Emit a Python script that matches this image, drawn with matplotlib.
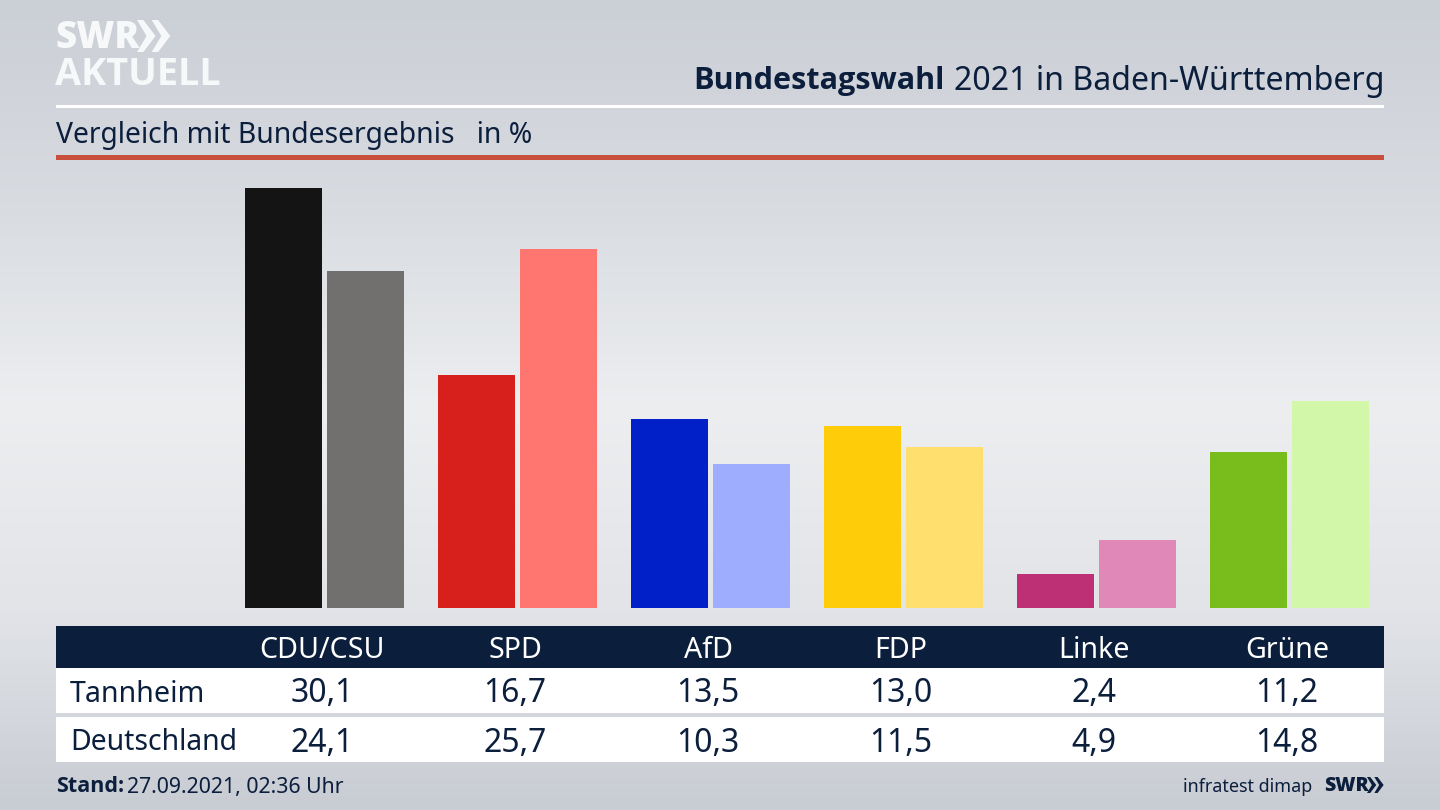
import numpy as np
import matplotlib
matplotlib.use('Agg')
import matplotlib.pyplot as plt
from matplotlib.colors import LinearSegmentedColormap
from matplotlib.patches import Polygon, Rectangle

parties = ['CDU/CSU', 'SPD', 'AfD', 'FDP', 'Linke', 'Grüne']
tannheim = [30.1, 16.7, 13.5, 13.0, 2.4, 11.2]
deutschland = [24.1, 25.7, 10.3, 11.5, 4.9, 14.8]
row_names = ['Tannheim', 'Deutschland']
colors_local = ['#141414', '#d7201c', '#0220c8', '#ffcc0a', '#bd3076', '#79bd1c']
colors_federal = ['#72706e', '#ff7570', '#9fadff', '#ffe06e', '#e088b8', '#d2f7a8']

NAVY = '#0b1e3c'
LOGO = '#f7f8f9'
W, H = 1440, 810

plt.rcParams['font.family'] = ['Noto Sans', 'DejaVu Sans']

fig = plt.figure(figsize=(W / 100, H / 100), dpi=100)

# page layer works in pixels, top left origin
page = fig.add_axes([0, 0, 1, 1])
page.set_xlim(0, W)
page.set_ylim(H, 0)
page.axis('off')

bg = LinearSegmentedColormap.from_list('bg', ['#cbcfd6', '#d8dbe0', '#eceef0', '#e2e4e8', '#c8ccd3'])
page.imshow(np.linspace(0, 1, 256)[:, None], cmap=bg, aspect='auto', extent=(0, W, H, 0), zorder=0)

# header
page.add_patch(Rectangle((56, 104.5), 1328, 3, color='white', lw=0))
page.add_patch(Rectangle((56, 155), 1328, 5, color='#c9503c', lw=0))
page.text(56, 135, 'Vergleich mit Bundesergebnis   in %', fontsize=20.4, color=NAVY, va='center', ha='left')

title_y = 81
t = page.text(1384, title_y, '2021 in Baden-Württemberg', fontsize=23.1, color=NAVY, va='center', ha='right')
fig.canvas.draw()
left = t.get_window_extent().x0
page.text(left - 9, title_y, 'Bundestagswahl', fontsize=22.1, fontweight='bold', family='Open Sans',
          color=NAVY, va='center', ha='right')

# logo
page.text(55, 38, 'SWR', fontsize=26.5, fontweight='black', family='Open Sans', color=LOGO, va='center', ha='left')
page.text(55, 75, 'AKTUELL', fontsize=27.3, fontweight='bold', family='Open Sans', color=LOGO, va='center', ha='left')


def chevrons(x, y, h, color):
    # double arrow of the SWR logo
    for dx in (0, h * 0.46):
        pts = [(x + dx, y), (x + dx + h * 0.2, y), (x + dx + h * 0.58, y + h / 2),
               (x + dx + h * 0.2, y + h), (x + dx, y + h), (x + dx + h * 0.3, y + h / 2)]
        page.add_patch(Polygon(pts, closed=True, color=color, lw=0))


chevrons(137, 20, 32, LOGO)

# bars: group spacing 193 px, first group centre at x=322, base at y=608
chart = fig.add_axes([56 / W, 1 - 608 / H, 1328 / W, 448 / H])
chart.set_xlim((56 - 322) / 193, (1384 - 322) / 193)
chart.set_ylim(0, 448 / 13.97)
chart.axis('off')
x = np.arange(len(parties))
bar_w = 77 / 193
gap = 5 / 193
chart.bar(x - bar_w / 2, tannheim, width=bar_w, color=colors_local, lw=0)
chart.bar(x + bar_w / 2 + gap, deutschland, width=bar_w, color=colors_federal, lw=0)

# table
page.add_patch(Rectangle((56, 626), 1328, 42, color=NAVY, lw=0))
page.add_patch(Rectangle((56, 668), 1328, 45, color='white', lw=0))
page.add_patch(Rectangle((56, 717), 1328, 45, color='white', lw=0))
cols = 322 + 193 * x
for cx, name, a, b in zip(cols, parties, tannheim, deutschland):
    page.text(cx, 651, name, fontsize=20.6, color='white', va='center', ha='center')
    page.text(cx, 694, f'{a:.1f}'.replace('.', ','), fontsize=23, color=NAVY, va='center', ha='center')
    page.text(cx, 743, f'{b:.1f}'.replace('.', ','), fontsize=23, color=NAVY, va='center', ha='center')
page.text(70, 694, row_names[0], fontsize=20.6, color=NAVY, va='center', ha='left')
page.text(70, 743, row_names[1], fontsize=20.4, color=NAVY, va='center', ha='left')

# footer
s = page.text(56, 787, 'Stand:', fontsize=15.5, fontweight='bold', family='Open Sans', color=NAVY, va='center', ha='left')
fig.canvas.draw()
px = s.get_window_extent().x1
page.text(px + 3, 787, '27.09.2021, 02:36 Uhr', fontsize=15.3, color=NAVY, va='center', ha='left')
page.text(1312, 787, 'infratest dimap', fontsize=12.9, color=NAVY, va='center', ha='right')
page.text(1324, 786, 'SWR', fontsize=14, fontweight='black', family='Open Sans', color=NAVY, va='center', ha='left')
chevrons(1367, 777, 16, NAVY)

fig.savefig('out.png', dpi=100)
